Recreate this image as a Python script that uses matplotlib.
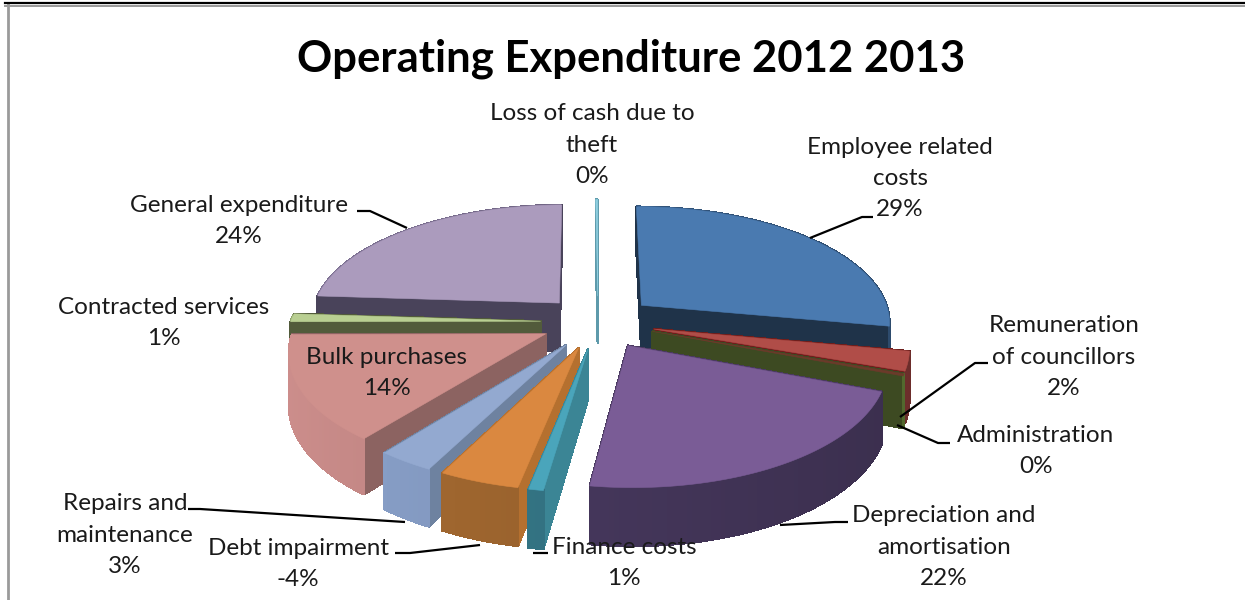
import numpy as np
import matplotlib
matplotlib.use("Agg")
import matplotlib.pyplot as plt
from matplotlib.colors import to_rgb
from matplotlib.patches import Polygon

categories = ["Employee related costs", "Remuneration of councillors", "Administration",
              "Depreciation and amortisation", "Finance costs", "Debt impairment",
              "Repairs and maintenance", "Bulk purchases", "Contracted services",
              "General expenditure", "Loss of cash due to theft"]
values = [27.9, 2.6, 0.3, 21.45, 0.8, -4.4, 3.1, 14.3, 1.1, 23.8, 0.15]
top_colors = ["#4a7ab0", "#b04d48", "#6b3a2a", "#7a5c96", "#4aa5bb", "#da8840",
              "#93a9d0", "#cf908c", "#b9cf92", "#ab9bbd", "#8fcfe0"]
cut_colors = ["#1f3349", "#6e1e1c", "#3d4a22", "#4a3a60", "#3b8595", "#b5702f",
              "#6e82a0", "#8c6361", "#525b3b", "#49435a", "#5e9aab"]
rim_colors = ["#34577f", "#7e3532", "#5f7a35", "#44365a", "#32707f", "#96602c",
              "#7b90b5", "#b37c7a", "#7d8f5f", "#6d6280", "#5e9aab"]
title = "Operating Expenditure 2012 2013"
labels = ["Employee related\ncosts\n29%", "Remuneration\nof councillors\n2%", "Administration\n0%",
          "Depreciation and\namortisation\n22%", "Finance costs\n1%", "Debt impairment\n-4%",
          "Repairs and\nmaintenance\n3%", "Bulk purchases\n14%", "Contracted services\n1%",
          "General expenditure\n24%", "Loss of cash due to\ntheft\n0%"]
label_xy = [(900, 178.5), (1064, 357), (1036, 451), (944, 547), (624, 563), (298, 564),
            (125, 535), (387, 373), (164, 323), (239, 221), (592, 145)]
leaders = [[(810, 238), (862, 217), (873, 217)], [(900, 417), (975, 363), (988, 363)],
           [(897, 425), (938, 443), (950, 443)], [(780, 525), (835, 522), (848, 522)],
           [(533, 553), (548, 553)], [(480, 545), (410, 553), (395, 553)],
           [(405, 522), (200, 509), (188, 509)], [(407, 228), (370, 211), (357, 211)]]

CX, CY, RX, RY, P, DEPTH, EXPLODE = 598, 322, 250, 116, 0.134, 49, 0.23
FONT = "Lato"

fig = plt.figure(figsize=(12.45, 6), dpi=100, facecolor="white")
ax = fig.add_axes([0, 0, 1, 1])
ax.set_xlim(0, 1245)
ax.set_ylim(600, 0)
ax.axis("off")


def project(u, v, z=0.0):
    s = 1.0 / (1.0 - P * v)
    return CX + RX * u * s, CY + (RY * v + z) * s


def shade(color, f):
    return tuple(min(1.0, c * f) for c in to_rgb(color))


sizes = np.abs(values, dtype=float)
edges = np.concatenate([[0.0], np.cumsum(sizes)]) / sizes.sum() * 2 * np.pi
mids = (edges[:-1] + edges[1:]) / 2
apex_v = -np.cos(mids) * EXPLODE

for z_order, i in enumerate(np.argsort(apex_v)):
    a0, a1 = edges[i], edges[i + 1]
    au, av = np.sin(mids[i]) * EXPLODE, -np.cos(mids[i]) * EXPLODE
    t = np.linspace(a0, a1, max(3, int((a1 - a0) * 60)))
    ru, rv = au + np.sin(t), av - np.cos(t)
    faces = []
    for a in (a0, a1):
        eu, ev = au + np.sin(a), av - np.cos(a)
        quad = [project(au, av), project(eu, ev), project(eu, ev, DEPTH), project(au, av, DEPTH)]
        faces.append(((av + ev) / 2, quad, cut_colors[i]))
    for k in range(len(t) - 1):
        quad = [project(ru[k], rv[k]), project(ru[k + 1], rv[k + 1]),
                project(ru[k + 1], rv[k + 1], DEPTH), project(ru[k], rv[k], DEPTH)]
        faces.append(((rv[k] + rv[k + 1]) / 2, quad, shade(rim_colors[i], 1 - 0.12 * ru[k])))
    faces.sort(key=lambda f: f[0])
    base = 10 + z_order * 2
    for _, quad, col in faces:
        ax.add_patch(Polygon(quad, closed=True, facecolor=col, edgecolor=col, lw=1.0,
                             antialiased=False, zorder=base))
    top = [project(au, av)] + [project(a, b) for a, b in zip(ru, rv)]
    ax.add_patch(Polygon(top, closed=True, facecolor=top_colors[i], edgecolor=top_colors[i],
                         lw=0.4, zorder=base + 1))

for pts in leaders:
    xs, ys = zip(*pts)
    ax.plot(xs, ys, color="black", lw=1.6, zorder=60, solid_capstyle="butt")

for text, (x, y) in zip(labels, label_xy):
    ax.text(x, y, text, family=FONT, fontsize=17.5, color="#1a1a1a", ha="center", va="center",
            linespacing=1.6, zorder=70)

ax.text(631, 59, title, family=FONT, fontsize=31.4, fontweight="bold", color="black",
        ha="center", va="center", zorder=70)

ax.plot([5, 1245], [3, 3], color="black", lw=1.6, zorder=80)
ax.plot([5, 1245], [5.5, 5.5], color="#9a9a9a", lw=1.4, zorder=79)
ax.plot([7.5, 7.5], [5, 600], color="#9a9a9a", lw=2.0, zorder=79)

fig.savefig("out.png", dpi=100, facecolor="white")
